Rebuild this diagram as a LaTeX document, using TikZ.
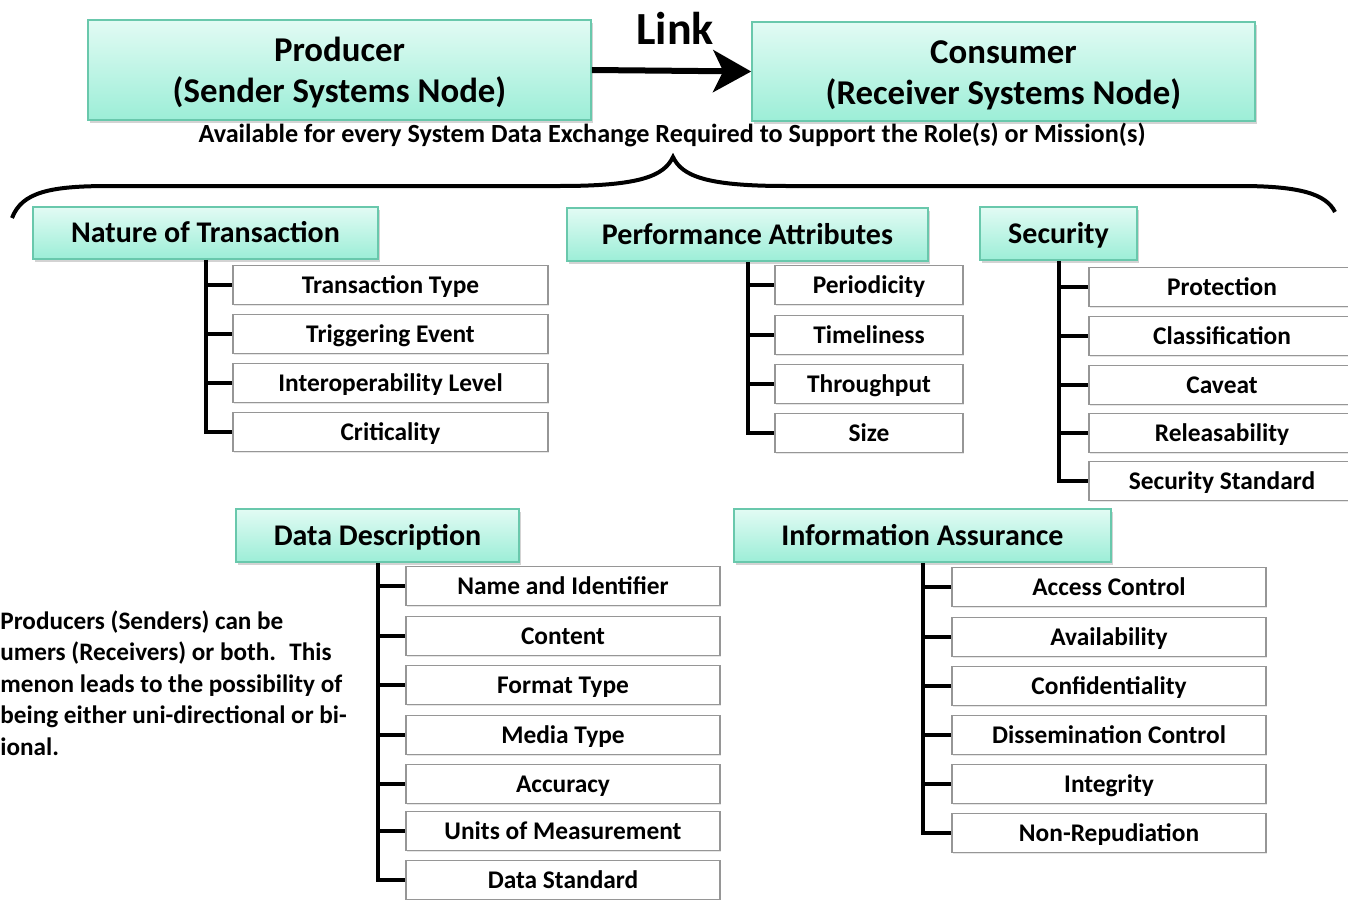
\documentclass[tikz,border=0pt]{standalone}
\usepackage{fontspec}
\setmainfont{Carlito}
\usetikzlibrary{shadows,arrows.meta}

\definecolor{mintTop}{RGB}{226,251,244}
\definecolor{mintBot}{RGB}{156,238,215}
\definecolor{mintLine}{RGB}{105,200,172}
\definecolor{itemLine}{RGB}{150,150,150}

\begin{document}
\begin{tikzpicture}[x=0.5pt,y=-0.5pt,
    hdr/.style={draw=mintLine, line width=0.8pt, top color=mintTop, bottom color=mintBot,
        drop shadow={opacity=0.35, shadow xshift=1pt, shadow yshift=-1.5pt},
        inner sep=0pt, text height=11pt, text depth=1.4pt,
        font=\fontsize{15}{20.5}\selectfont\bfseries},
    item/.style={draw=itemLine, fill=white, line width=0.7pt, inner sep=0pt,
        minimum height=19.5pt, text height=9pt, text depth=1pt,
        drop shadow={opacity=0.2, shadow xshift=0.6pt, shadow yshift=-0.8pt},
        font=\fontsize{12.7}{14}\selectfont\bfseries},
    tree/.style={line width=2pt}]

    \useasboundingbox (0,0) rectangle (1348,899);
    \clip (0,0) rectangle (1348,899);

    % producer -> consumer
    \node[hdr, minimum width=251.5pt, minimum height=50pt, text height=, text depth=, align=center,
        font=\fontsize{17.4}{20.5}\selectfont\bfseries]
        (producer) at (339.5,70) {\rule{0pt}{15pt}Producer\\(Sender Systems Node)};
    \node[hdr, minimum width=251.5pt, minimum height=49.5pt, text height=, text depth=, align=center,
        font=\fontsize{17.4}{20.5}\selectfont\bfseries]
        (consumer) at (1003.5,71.5) {\rule{0pt}{15pt}Consumer\\(Receiver Systems Node)};
    \draw[-{Stealth[length=19pt,width=21pt,inset=5pt]}, line width=3pt]
        (producer.east) -- (consumer.west);
    \node[font=\fontsize{23}{26}\selectfont\bfseries] (link) at (675,28) {Link};
    \node[font=\fontsize{13.1}{15}\selectfont\bfseries] (avail) at (672,135)
        {Available for every System Data Exchange Required to Support the Role(s) or Mission(s)};

    % brace
    \draw[line width=2pt] (12,218) .. controls (22,192) and (50,186) .. (110,186)
        -- (560,186) .. controls (640,186) and (664,176) .. (673,157)
        .. controls (682,176) and (706,186) .. (786,186)
        -- (1240,186) .. controls (1300,186) and (1326,194) .. (1335,212);

    % nature of transaction
    \node[hdr, minimum width=172.5pt, minimum height=26pt] (nature) at (205.5,233) {Nature of Transaction};
    \foreach \y/\txt [count=\i] in {285/Transaction Type, 334/Triggering Event,
            383/Interoperability Level, 432/Criticality}{
        \node[item, minimum width=157.5pt] (nat\i) at (390.5,\y) {\txt};
        \draw[tree] (nature.south |- nat\i.west) -- (nat\i.west);
    }
    \draw[tree] (nature.south) |- (nat4.west);

    % performance attributes
    \node[hdr, minimum width=180.5pt, minimum height=26.5pt] (perf) at (747.5,234.5) {Performance Attributes};
    \foreach \y/\txt [count=\i] in {285/Periodicity, 335/Timeliness, 384/Throughput, 433/Size}{
        \node[item, minimum width=94pt] (perf\i) at (869,\y) {\txt};
        \draw[tree] (perf.south |- perf\i.west) -- (perf\i.west);
    }
    \draw[tree] (perf.south) |- (perf4.west);

    % security
    \node[hdr, minimum width=78.5pt, minimum height=26.5pt] (secu) at (1058.5,233.5) {Security};
    \foreach \y/\txt [count=\i] in {287/Protection, 336/Classification, 385/Caveat,
            433/Releasability, 481/Security Standard}{
        \node[item, minimum width=133pt] (secu\i) at (1222,\y) {\txt};
        \draw[tree] (secu.south |- secu\i.west) -- (secu\i.west);
    }
    \draw[tree] (secu.south) |- (secu5.west);

    % data description
    \node[hdr, minimum width=141.5pt, minimum height=26.5pt] (data) at (377.5,535.5) {Data Description};
    \foreach \y/\txt [count=\i] in {586/Name and Identifier, 636/Content, 685/Format Type,
            735/Media Type, 784/Accuracy, 831/Units of Measurement, 880/Data Standard}{
        \node[item, minimum width=157pt] (data\i) at (563,\y) {\txt};
        \draw[tree] (data.south |- data\i.west) -- (data\i.west);
    }
    \draw[tree] (data.south) |- (data7.west);

    % information assurance
    \node[hdr, minimum width=188.5pt, minimum height=26.5pt] (assur) at (922.5,535.5) {Information Assurance};
    \foreach \y/\txt [count=\i] in {587/Access Control, 637/Availability, 686/Confidentiality,
            735/Dissemination Control, 784/Integrity, 833/Non-Repudiation}{
        \node[item, minimum width=157pt] (assur\i) at (1109,\y) {\txt};
        \draw[tree] (assur.south |- assur\i.west) -- (assur\i.west);
    }
    \draw[tree] (assur.south) |- (assur6.west);

    % note on the left
    \node[anchor=west, align=left, inner sep=0pt, font=\fontsize{12.6}{15.75}\selectfont\bfseries]
        (note) at (0,683) {Producers (Senders) can be\\umers (Receivers) or both.~ This\\
        menon leads to the possibility of\\being either uni-directional or bi-\\ional.};

\end{tikzpicture}
\end{document}
